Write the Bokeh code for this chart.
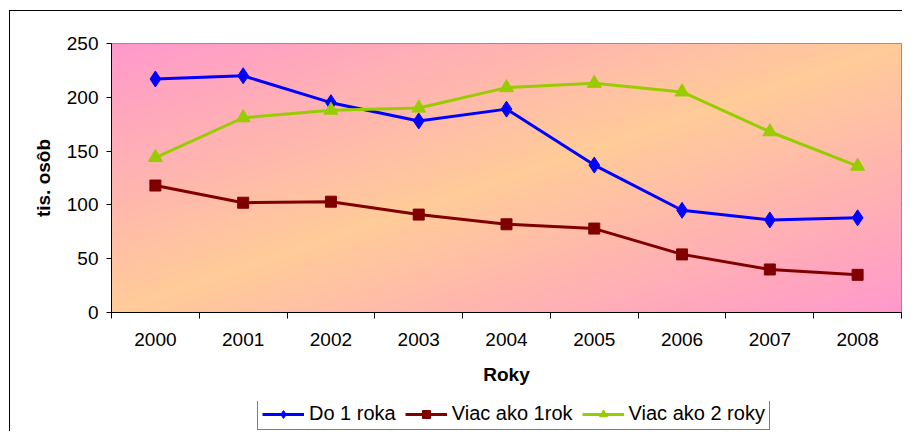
import numpy as np
from bokeh.plotting import figure
from bokeh.layouts import column
from bokeh.models import Range1d, FixedTicker, Legend
from bokeh.embed import file_html
from bokeh.resources import INLINE

# ---- data ----
years = [2000, 2001, 2002, 2003, 2004, 2005, 2006, 2007, 2008]
do_1_roka = [217, 220, 195, 178, 189, 137, 95, 86, 88]
viac_ako_1rok = [118, 102, 103, 91, 82, 78, 54, 40, 35]
viac_ako_2_roky = [144, 181, 188, 190, 209, 213, 205, 168, 136]
y_ticks = [0, 50, 100, 150, 200, 250]
series_names = ["Do 1 roka", "Viac ako 1rok", "Viac ako 2 roky"]
series_values = [do_1_roka, viac_ako_1rok, viac_ako_2_roky]
series_colors = ["#0000FF", "#800000", "#99CC00"]
series_markers = ["diamond", "square", "triangle"]
marker_sizes = [16, 11, 14]

FONT = "Liberation Sans"

p = figure(width=902, height=401, output_backend="svg", toolbar_location=None,
           x_range=Range1d(years[0] - 0.5, years[-1] + 0.5), y_range=Range1d(y_ticks[0], y_ticks[-1]),
           min_border_left=111, min_border_top=43, min_border_right=1, min_border_bottom=89)
p.background_fill_color = "white"
p.border_fill_alpha = 0
# outer chart border drawn as thin background lines on the host element
p.styles = {
    "background-color": "white",
    "background-image": "linear-gradient(black, black), linear-gradient(black, black)",
    "background-size": "1px 100%, 100% 1px",
    "background-position": "9px 10px, 9px 10px",
    "background-repeat": "no-repeat",
}
p.outline_line_color = "#808080"
p.outline_line_width = 1

# gradient background of the plot area (pink - orange - pink diagonal)
H, W = 269, 790
xs = np.linspace(0, 1, W)[None, :]
ys_top = np.linspace(1, 0, H)[:, None]  # row 0 is bottom
t = (xs + ys_top) / 2.0
w = 1 - np.abs(2 * t - 1)
pink = np.array([255, 153, 204], dtype=float)
orange = np.array([255, 204, 153], dtype=float)
rgb = pink[None, None, :] + (orange - pink)[None, None, :] * w[:, :, None]
img = np.empty((H, W), dtype=np.uint32)
view = img.view(dtype=np.uint8).reshape((H, W, 4))
view[:, :, 0] = rgb[:, :, 0].astype(np.uint8)
view[:, :, 1] = rgb[:, :, 1].astype(np.uint8)
view[:, :, 2] = rgb[:, :, 2].astype(np.uint8)
view[:, :, 3] = 255
p.image_rgba(image=[img], x=years[0] - 0.5, y=y_ticks[0], dw=len(years), dh=y_ticks[-1] - y_ticks[0])

# grid
p.xgrid.visible = False
p.ygrid.ticker = FixedTicker(ticks=y_ticks[1:-1])
p.ygrid.grid_line_color = "black"
p.ygrid.grid_line_width = 1

# axes
p.xaxis.ticker = FixedTicker(ticks=years, minor_ticks=[y - 0.5 for y in years] + [years[-1] + 0.5])
p.xaxis.major_tick_line_color = None
p.xaxis.major_tick_out = 0
p.xaxis.major_tick_in = 0
p.xaxis.minor_tick_line_color = "black"
p.xaxis.minor_tick_out = 6
p.xaxis.minor_tick_in = 0
p.xaxis.axis_line_color = "black"
p.xaxis.major_label_standoff = 14
p.xaxis.axis_label = "Roky"
p.xaxis.axis_label_standoff = 15

p.yaxis.ticker = FixedTicker(ticks=y_ticks)
p.yaxis.minor_tick_line_color = None
p.yaxis.major_tick_out = 5
p.yaxis.major_tick_in = 0
p.yaxis.major_tick_line_color = "black"
p.yaxis.axis_line_color = "black"
p.yaxis.major_label_standoff = 8
p.yaxis.axis_label = "tis. osôb"
p.yaxis.axis_label_standoff = 10

for ax in (p.xaxis[0], p.yaxis[0]):
    ax.major_label_text_font = FONT
    ax.major_label_text_font_size = "19px"
    ax.major_label_text_color = "black"
    ax.axis_label_text_font = FONT
    ax.axis_label_text_font_size = "19px"
    ax.axis_label_text_font_style = "bold"
    ax.axis_label_text_color = "black"

# series on the main chart
for vals, col, mk, sz in zip(series_values, series_colors, series_markers, marker_sizes):
    p.line(years, vals, line_color=col, line_width=3)
    p.scatter(years, vals, marker=mk, size=sz, fill_color=col, line_color=col)

# legend strip (separate canvas below the chart; same series, kept out of view)
leg = figure(width=902, height=30, output_backend="svg", toolbar_location=None,
             x_range=Range1d(years[0] - 0.5, years[-1] + 0.5), y_range=Range1d(1000, 1001),
             x_axis_type=None, y_axis_type=None,
             min_border_left=0, min_border_right=0, min_border_top=0, min_border_bottom=0)
leg.grid.visible = False
leg.outline_line_color = None
leg.background_fill_alpha = 0
leg.border_fill_alpha = 0
leg.styles = {
    "background-color": "white",
    "background-image": "linear-gradient(black, black)",
    "background-size": "1px 100%",
    "background-position": "9px 0px",
    "background-repeat": "no-repeat",
}
items = []
for name, vals, col, mk, sz in zip(series_names, series_values, series_colors, series_markers, marker_sizes):
    lr = leg.line(years, vals, line_color=col, line_width=3)
    sr = leg.scatter(years, vals, marker=mk, size=sz - 4, fill_color=col, line_color=col)
    items.append((name, [lr, sr]))

# frames of the column are aligned, so x is measured from the chart's plot-area left edge
legend = Legend(items=items, orientation="horizontal", location=(146, 1))
legend.label_text_font = FONT
legend.label_text_font_size = "20px"
legend.label_text_color = "black"
legend.glyph_width = 42
legend.glyph_height = 20
legend.label_standoff = 5
legend.spacing = 9
legend.padding = 4
legend.margin = 0
legend.border_line_color = "black"
legend.border_line_width = 1
legend.background_fill_color = "white"
legend.label_height = 20
leg.add_layout(legend, "center")

layout = column(p, leg, spacing=0)
open("out.html", "w").write(file_html(layout, INLINE))
